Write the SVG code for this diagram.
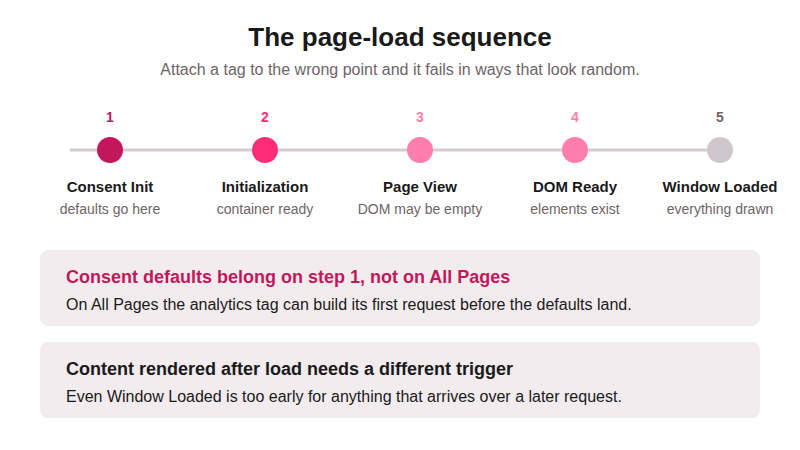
<svg xmlns="http://www.w3.org/2000/svg" width="800" height="450" viewBox="0 0 800 450">
<style>
text{font-family:"Liberation Sans",Arial,sans-serif}
.num{font-size:14px;font-weight:bold;text-anchor:middle}
.lbl{font-size:15px;font-weight:bold;fill:#1a1a1a;text-anchor:middle}
.sub{font-size:14px;fill:#6e6468;text-anchor:middle}
.card{fill:#f3ecef}
.ct{font-size:18px;font-weight:bold}
.cb{font-size:16px;fill:#1a1a1a}
</style>
<rect width="800" height="450" fill="#fff"/>
<text x="400" y="46" font-size="26" font-weight="bold" fill="#1a1a1a" text-anchor="middle">The page-load sequence</text>
<text x="400" y="75" font-size="16" fill="#6e6468" text-anchor="middle">Attach a tag to the wrong point and it fails in ways that look random.</text>
<g id="connectors"><line x1="70" y1="150" x2="720" y2="150" stroke="#d4cccf" stroke-width="3"/></g>
<g id="n1"><text class="num" x="110" y="122" fill="#c2185b">1</text><circle cx="110" cy="150" r="13" fill="#c2185b"/><text class="lbl" x="110" y="192">Consent Init</text><text class="sub" x="110" y="214">defaults go here</text></g>
<g id="n2"><text class="num" x="265" y="122" fill="#ff2d78">2</text><circle cx="265" cy="150" r="13" fill="#ff2d78"/><text class="lbl" x="265" y="192">Initialization</text><text class="sub" x="265" y="214">container ready</text></g>
<g id="n3"><text class="num" x="420" y="122" fill="#ff7eab">3</text><circle cx="420" cy="150" r="13" fill="#ff7eab"/><text class="lbl" x="420" y="192">Page View</text><text class="sub" x="420" y="214">DOM may be empty</text></g>
<g id="n4"><text class="num" x="575" y="122" fill="#ff7eab">4</text><circle cx="575" cy="150" r="13" fill="#ff7eab"/><text class="lbl" x="575" y="192">DOM Ready</text><text class="sub" x="575" y="214">elements exist</text></g>
<g id="n5"><text class="num" x="720" y="122" fill="#6e6468">5</text><circle cx="720" cy="150" r="13" fill="#d0c7cd"/><text class="lbl" x="720" y="192">Window Loaded</text><text class="sub" x="720" y="214">everything drawn</text></g>
<g id="card1"><rect class="card" x="40" y="250" width="720" height="76" rx="8"/><text class="ct" x="66" y="283" fill="#c2185b">Consent defaults belong on step 1, not on All Pages</text><text class="cb" x="66" y="310">On All Pages the analytics tag can build its first request before the defaults land.</text></g>
<g id="card2"><rect class="card" x="40" y="342" width="720" height="76" rx="8"/><text class="ct" x="66" y="375" fill="#1a1a1a">Content rendered after load needs a different trigger</text><text class="cb" x="66" y="402">Even Window Loaded is too early for anything that arrives over a later request.</text></g>
</svg>
